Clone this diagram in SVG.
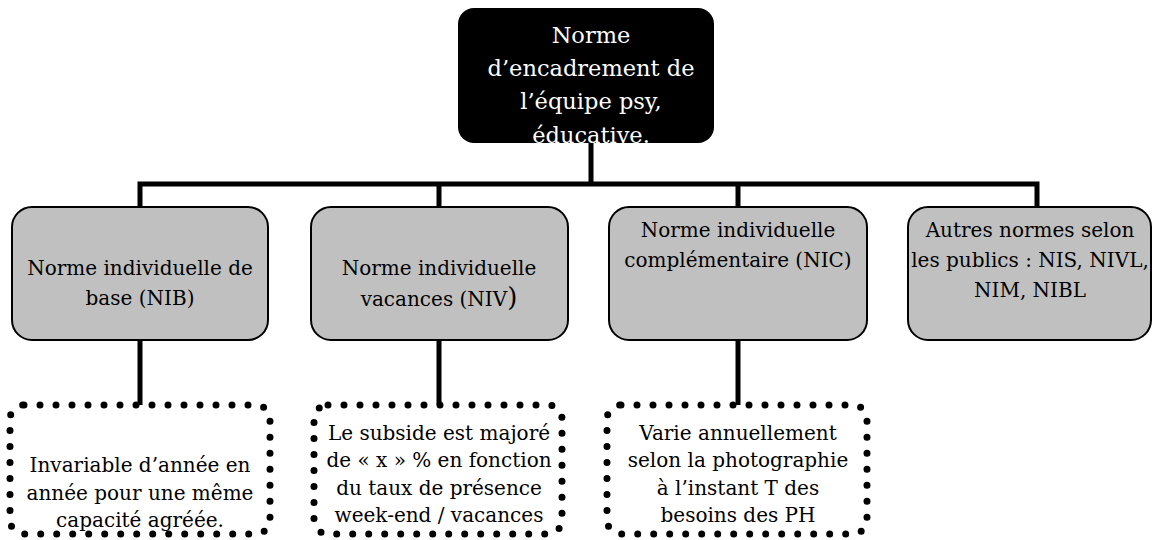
<svg xmlns="http://www.w3.org/2000/svg" width="1153" height="540" viewBox="0 0 1153 540">
<style>
.t{font-family:"DejaVu Serif","Liberation Serif",serif;font-size:20px;fill:#000;text-anchor:middle}
.top{font-family:"DejaVu Serif","Liberation Serif",serif;font-size:22.5px;fill:#fff;text-anchor:middle}
.node{fill:#c0c0c0;stroke:#000;stroke-width:2}
.dot{fill:none;stroke:#000;stroke-width:7;stroke-dasharray:0 16;stroke-linecap:round}
.conn{fill:none;stroke:#000;stroke-width:5}
</style>
<defs>
<clipPath id="topclip"><rect x="458" y="8" width="256" height="135" rx="16"/></clipPath>
</defs>
<g id="connectors">
<path class="conn" d="M591,143 V184 M140,207 V184 H1037 V207 M439,184 V207 M738,184 V207"/>
<path class="conn" d="M140,340 V405 M439,340 V405 M738,340 V405"/>
</g>
<g id="n0">
<rect x="458" y="8" width="256" height="135" rx="16" fill="#000"/>
<g clip-path="url(#topclip)">
<text class="top" x="591" y="43">Norme</text>
<text class="top" x="591" y="76">d’encadrement de</text>
<text class="top" x="591" y="109">l’équipe psy,</text>
<text class="top" x="591" y="143">éducative.</text>
</g>
</g>
<g id="n1">
<rect class="node" x="12" y="207" width="256" height="133" rx="20"/>
<text class="t" x="140" y="275">Norme individuelle de</text>
<text class="t" x="140" y="305">base (NIB)</text>
</g>
<g id="n2">
<rect class="node" x="311" y="207" width="257" height="133" rx="20"/>
<text class="t" x="439" y="275">Norme individuelle</text>
<text class="t" x="439" y="306">vacances (NIV<tspan font-size="26">)</tspan></text>
</g>
<g id="n3">
<rect class="node" x="609" y="207" width="258" height="133" rx="20"/>
<text class="t" x="738" y="237">Norme individuelle</text>
<text class="t" x="738" y="267">complémentaire (NIC)</text>
</g>
<g id="n4">
<rect class="node" x="908" y="207" width="243" height="133" rx="20"/>
<text class="t" x="1030" y="237">Autres normes selon</text>
<text class="t" x="1030" y="267">les publics : NIS, NIVL,</text>
<text class="t" x="1030" y="297">NIM, NIBL</text>
</g>
<g id="d1">
<rect class="dot" x="10" y="405" width="260" height="129" rx="14"/>
<text class="t" x="140" y="472">Invariable d’année en</text>
<text class="t" x="140" y="500">année pour une même</text>
<text class="t" x="140" y="527">capacité agréée.</text>
</g>
<g id="d2">
<rect class="dot" x="314" y="405" width="248" height="129" rx="14"/>
<text class="t" x="439" y="440">Le subside est majoré</text>
<text class="t" x="439" y="467">de « x » % en fonction</text>
<text class="t" x="439" y="495">du taux de présence</text>
<text class="t" x="439" y="522">week-end / vacances</text>
</g>
<g id="d3">
<rect class="dot" x="607" y="405" width="260" height="129" rx="14"/>
<text class="t" x="738" y="440">Varie annuellement</text>
<text class="t" x="738" y="467">selon la photographie</text>
<text class="t" x="738" y="495">à l’instant T des</text>
<text class="t" x="738" y="522">besoins des PH</text>
</g>
</svg>
